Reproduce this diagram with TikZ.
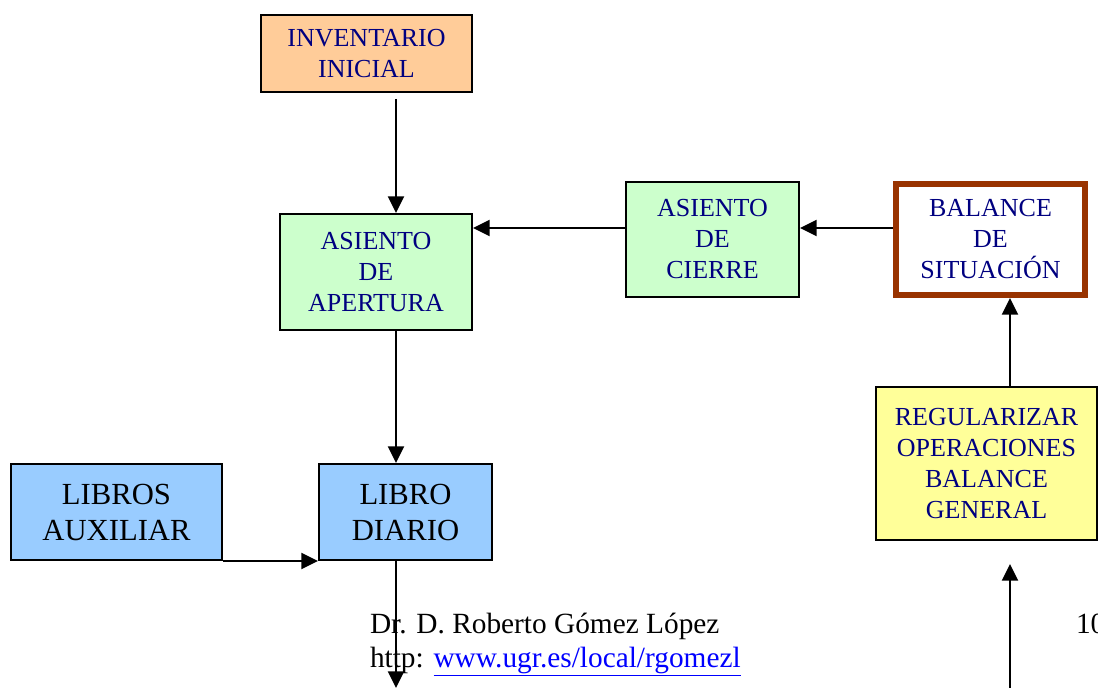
\documentclass[tikz,border=0pt]{standalone}
\usepackage{fontspec}
\setmainfont{Liberation Serif}
\usetikzlibrary{arrows.meta}
\definecolor{textblue}{rgb}{0.0,0.0,0.5}
\definecolor{peach}{RGB}{255,204,153}
\definecolor{mint}{RGB}{204,255,204}
\definecolor{sky}{RGB}{153,204,255}
\definecolor{lemon}{RGB}{255,255,153}
\definecolor{brick}{RGB}{153,51,0}

\begin{document}
\begin{tikzpicture}[x=0.75pt,y=-0.75pt,>={Triangle[length=12.5pt,width=12pt]},line width=1.5pt,
  caja/.style={draw,line width=1.5pt,align=center,text=textblue,inner sep=0pt,
    font=\fontsize{19.5}{23.25}\selectfont},
  libro/.style={caja,fill=sky,text=black,font=\fontsize{23}{27}\selectfont},
  pie/.style={anchor=base west,inner sep=0pt,font=\fontsize{22}{25.5}\selectfont}]
\useasboundingbox (0,0) rectangle (1098,688);
\node[caja,fill=peach,minimum width=158.25pt,minimum height=57.75pt] (inventario) at (366.5,53.5) {INVENTARIO\\INICIAL};
\node[caja,fill=mint,minimum width=144pt,minimum height=87pt] (apertura) at (376,272) {ASIENTO\\DE\\APERTURA};
\node[caja,fill=mint,minimum width=129.75pt,minimum height=86.25pt] (cierre) at (712.5,239.5) {ASIENTO\\DE\\CIERRE};
\node[caja,fill=white,draw=brick,line width=4.5pt,minimum width=141.75pt,minimum height=83.25pt] (balance) at (990.5,239.5) {BALANCE\\DE\\SITUACIÓN};
\node[caja,fill=lemon,minimum width=165.75pt,minimum height=114.75pt] (regularizar) at (986.5,463.5) {REGULARIZAR\\OPERACIONES\\BALANCE\\GENERAL};
\node[libro,minimum width=158.25pt,minimum height=72pt] (auxiliar) at (116.5,512) {LIBROS\\AUXILIAR};
\node[libro,minimum width=129.75pt,minimum height=72pt] (diario) at (405.5,512) {LIBRO\\DIARIO};
\coordinate (abajo) at (396,688);
\coordinate (subida) at (1010,688);
\draw[->] ([shift={(29.5,6)}]inventario.south) -- ([shift={(20,0)}]apertura.north);
\draw[->] (cierre.west |- 0,228) -- (apertura.east |- 0,228);
\draw[->] (balance.west |- 0,228) -- (cierre.east |- 0,228);
\draw[->] ([shift={(23.5,0)}]regularizar.north) -- ([shift={(23.5,0)}]regularizar.north |- balance.south);
\draw[->] ([shift={(20,0)}]apertura.south) -- ([shift={(20,0)}]apertura.south |- diario.north);
\draw[->] (auxiliar.south east) -- (diario.south west);
\draw[->] (abajo |- diario.south) -- (abajo);
\draw[->] (subida) -- ([shift={(23.5,23)}]regularizar.south);
\node[pie] (autor) at (369,633) {Dr. D. Roberto Gómez López};
\node[pie] (web) at (369,667) {http: \textcolor{blue}{\underline{www.ugr.es/local/rgomezl}}};
\node[pie] (pagina) at (1075,633) {10};
\end{tikzpicture}
\end{document}
